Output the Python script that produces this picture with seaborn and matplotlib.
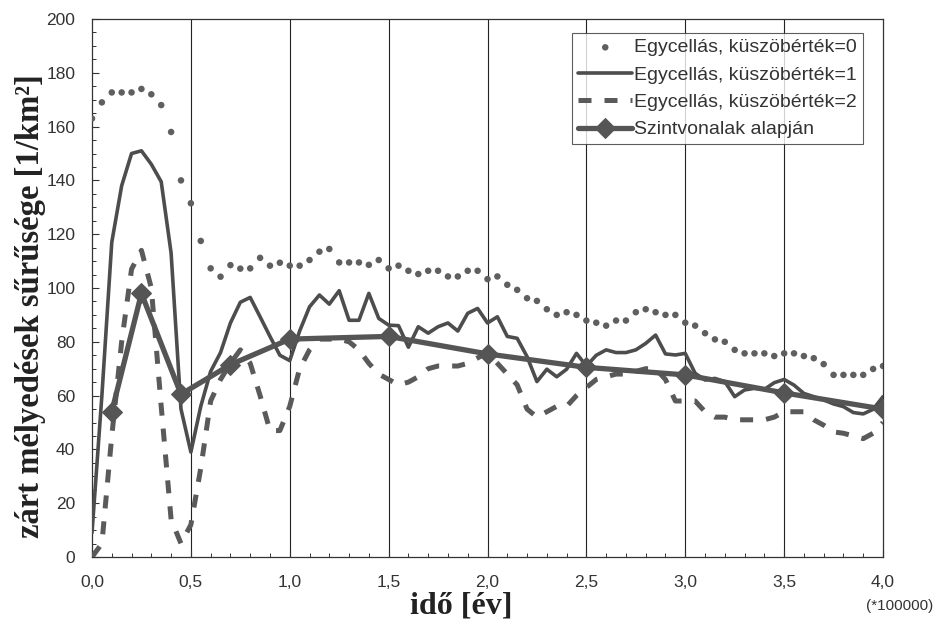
import numpy as np
import pandas as pd
import matplotlib
matplotlib.use("Agg")
import matplotlib.pyplot as plt
import matplotlib.ticker as mticker
import seaborn as sns

# ---- data -------------------------------------------------------------
ido = [round(0.05 * i, 2) for i in range(81)]

kuszob0 = [163, 169, 172.7, 172.7, 172.7, 174, 172, 168, 158, 140,
           131.5, 117.5, 107.3, 104.2, 108.5, 107.2, 107.3, 111.2, 108.3, 109.4,
           108.3, 108.3, 110.4, 113.5, 114.5, 109.5, 109.5, 109.5, 108.6, 110.4,
           107.3, 108.3, 106.4, 105.2, 106.4, 106.4, 104.3, 104.3, 106.4, 106.4,
           103.3, 104.3, 101.2, 99.3, 96.2, 95.2, 92.1, 90, 91, 90,
           87.9, 87.1, 86, 87.9, 87.9, 91, 92.1, 91, 90, 90,
           87.1, 86, 83.2, 80.9, 80, 77, 75.7, 75.7, 75.7, 74.7,
           75.7, 75.7, 74.7, 73.9, 71.7, 67.7, 67.7, 67.7, 67.7, 69.9,
           71]

kuszob1 = [9, 60, 117, 138, 150, 151, 146, 139.5, 113, 55,
           39, 56, 69, 76, 87, 94.7, 96.5, 89.3, 82, 75,
           73, 84, 93, 97.4, 94, 99, 88, 88, 98, 88.7,
           86.2, 86, 78, 85.6, 83.2, 85.6, 87, 84, 90.6, 92.4,
           87, 89.3, 82, 81.3, 74.5, 65.2, 69.8, 67, 69.8, 75.7,
           71, 75, 77, 76, 76, 77, 79.4, 82.5, 75.5, 75.1,
           75.7, 68.3, 65.8, 66.4, 65.2, 59.6, 62.1, 62.7, 62.3, 64.8,
           66, 63.9, 60.8, 59.6, 58.4, 56.9, 55.9, 53.7, 53.2, 54.9,
           59.6]

kuszob2 = [0, 5, 45, 80, 107, 114, 100, 56, 14, 5,
           12, 33, 58, 66, 72, 77, 72, 60, 47, 47,
           56, 70, 77, 81, 81, 81, 80, 77, 72, 68,
           66, 64, 65, 67, 70, 71, 71, 71, 72, 74,
           76, 72, 68, 64, 55, 52, 54, 56, 56, 60,
           63, 66, 67, 68, 68, 69, 70, 70, 66, 58,
           58, 58, 54, 52, 52, 51, 51, 51, 51, 52,
           54, 54, 54, 51, 49, 46.5, 46, 45, 44, 46,
           50]

szint_x = [0.1, 0.25, 0.45, 0.7, 1.0, 1.5, 2.0, 2.5, 3.0, 3.5, 4.0]
szint_y = [54, 98, 60.5, 71.5, 81, 82, 75.5, 70.5, 67.7, 61, 55]

labels = ["Egycellás, küszöbérték=0", "Egycellás, küszöbérték=1",
          "Egycellás, küszöbérték=2", "Szintvonalak alapján"]
x_ticks = [0.0, 0.5, 1.0, 1.5, 2.0, 2.5, 3.0, 3.5, 4.0]
y_ticks = [0, 20, 40, 60, 80, 100, 120, 140, 160, 180, 200]

# ---- plotting ---------------------------------------------------------
sns.set_style("white")
plt.rcParams["font.family"] = ["Liberation Sans", "DejaVu Sans"]

fig = plt.figure(figsize=(9.51, 6.32), dpi=100)
ax = fig.add_axes([92 / 951, 1 - 557 / 632, (883 - 92) / 951, (557 - 19) / 632])

df = pd.DataFrame({"ido": ido, "k0": kuszob0, "k1": kuszob1, "k2": kuszob2})
sz = pd.DataFrame({"ido": szint_x, "v": szint_y})

for xv in x_ticks[1:-1]:
    ax.axvline(xv, color="#222222", lw=0.8, zorder=0)

sns.scatterplot(data=df, x="ido", y="k0", ax=ax, color="#5f5f5f", s=22,
                edgecolor="none", zorder=3, label=labels[0])
sns.lineplot(data=df, x="ido", y="k1", ax=ax, color="#4d4d4d", lw=2.6,
             zorder=4, label=labels[1])
sns.lineplot(data=df, x="ido", y="k2", ax=ax, color="#5a5a5a", lw=3.6,
             zorder=3, label=labels[2], dashes=False)
ax.lines[-1].set_dashes([2.6, 2.6])
sns.lineplot(data=sz, x="ido", y="v", ax=ax, color="#555555", lw=3.8,
             marker="D", markersize=10, markeredgecolor="#555555",
             zorder=5, label=labels[3])

ax.set_xlim(0, 4.0)
ax.set_ylim(0, 200)
ax.set_xticks(x_ticks)
ax.set_xticklabels([f"{v:.1f}".replace(".", ",") for v in x_ticks])
ax.set_yticks(y_ticks)
ax.xaxis.set_minor_locator(mticker.MultipleLocator(0.1))
ax.yaxis.set_minor_locator(mticker.MultipleLocator(5))
ax.tick_params(axis="both", which="both", direction="in", labelsize=12.5,
               colors="#333333", bottom=True, left=True)
ax.tick_params(axis="both", which="major", length=5, width=0.8)
ax.tick_params(axis="both", which="minor", length=3, width=0.7)
ax.tick_params(axis="x", pad=13)
ax.tick_params(axis="y", pad=12)
for sp in ax.spines.values():
    sp.set_color("#333333")
    sp.set_linewidth(0.9)

serif = ["Liberation Serif", "DejaVu Serif"]
ax.set_xlabel("idő [év]", family=serif, fontweight="bold", fontsize=23,
              color="#222222")
ax.set_ylabel("zárt mélyedések sűrűsége [1/km²]", family=serif,
              fontweight="bold", fontsize=23.5, color="#222222")
ax.xaxis.set_label_coords((461 - 92) / 791, (557 - 592) / 538)
ax.yaxis.set_label_coords((46 - 92) / 791, (557 - 306) / 538)
fig.text(900 / 951, 1 - 606 / 632, "(*100000)", ha="center", va="center",
         fontsize=11, color="#333333")

leg = ax.legend(loc="upper right", bbox_to_anchor=(863 / 951, 1 - 33 / 632),
                bbox_transform=fig.transFigure, frameon=True, fancybox=False,
                fontsize=14, borderpad=0.3, labelspacing=0.5,
                handlelength=2.8, handletextpad=0.1, borderaxespad=0)
leg.get_frame().set_edgecolor("#333333")
leg.get_frame().set_linewidth(0.8)
for t in leg.get_texts():
    t.set_color("#333333")

fig.savefig("out.png", dpi=100, facecolor="white")
